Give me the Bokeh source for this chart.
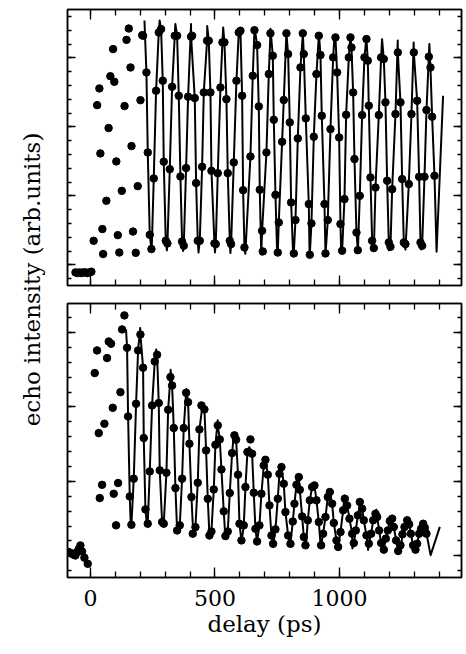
import math
from bokeh.plotting import figure
from bokeh.models import Range1d, FixedTicker, LinearAxis, Label
from bokeh.layouts import row, column
from bokeh.embed import file_html
from bokeh.resources import INLINE

# ---------------- data (delay in ps, echo intensity in arb. units) ----------------
x_ticks = [0, 500, 1000]
x_tick_labels = ["0", "500", "1000"]
x_minor_ticks = [-100, 0, 100, 200, 300, 400, 500, 600, 700, 800, 900, 1000, 1100, 1200, 1300, 1400]
y_ticks = [0, 5, 10, 15]
y_minor_ticks = list(range(-1, 19))

# upper panel: measured points
top_delay = [-60, -52, -44, -36, -28, -20, -12, -4, 4,
             13, 27, 36, 40, 48, 51, 64, 73, 80, 91, 96, 104, 110, 116, 126, 137, 145, 154, 161, 165,
             171, 182, 190, 201, 208,
             211.5, 224.9, 230.3, 238.3, 245, 254.3, 263.7, 274.4, 283.8, 290.5, 294.5, 302.5, 309.2,
             318.6, 328, 338.7, 348.1, 354.8, 361.4, 368.1, 374.8, 384.2, 392.2, 404.3, 408.3, 419,
             424.4, 431.1, 439.1, 448.5, 455.2, 468.5, 475.2, 481.9, 486, 498, 503.3, 511.4, 522.1,
             530.1, 538.1, 546.2, 551.5, 559.6, 564.9, 575.6, 586.3, 595.7, 602.4, 609.1, 613.1, 618.5,
             642.6, 651.9, 658.6, 669.3, 676, 680, 689.4, 692, 706.8, 716.2, 722.9, 732.3, 736.3, 743,
             752.3, 756.3, 769.7, 776.4, 787.1, 793.8, 800.5, 805.9, 816.6, 823.3, 832.7, 843.4, 852.7,
             856.7, 864.8, 876.8, 880.9, 887.5, 896.9, 907.6, 917, 923.7, 929, 939.8, 943.8, 953.1,
             963.9, 974.6, 983.9, 990.6, 998.7, 1004, 1010.7,
             1020.1, 1026.8, 1037.5, 1044.2, 1048.2, 1054.9, 1060.2, 1068.3, 1073.6, 1081.6, 1091,
             1100.4, 1108.4, 1113.8, 1117.8, 1124.5, 1131.2, 1137.9, 1144.6, 1158, 1167.3, 1178,
             1184.7, 1191.4, 1198.1, 1204.8, 1211.5, 1224.9, 1234.3, 1245, 1251.7, 1258.4, 1265,
             1278.4, 1289.1, 1298.5, 1311.9, 1319.9, 1325.3, 1332, 1341.4, 1349.4, 1358.8, 1365.4,
             1372.1, 1381.5]
top_signal = [-0.55, -0.6, -0.55, -0.6, -0.55, -0.55, -0.6, -0.55, -0.5,
              1.74, 11.57, 12.78, 8.07, 2.59, 0.78, 4.64, 9.91, 13.67, 15.63, 13.26, 7.49, 2.15, 0.89,
              5.36, 11.5, 16.3, 17.12, 14.3, 8.6, 2.41, 0.87, 5.7, 11.93, 16.64,
              16.6, 13.94, 8.14, 2.17, 1.14, 6.26, 12.61, 16.84, 17.08, 13.34, 7.47, 1.74, 1.55,
              6.93, 12.9, 16.6, 16.6, 12.25, 6.4, 1.69, 1.38, 7.01, 12.18, 16.53, 16.6, 12.08,
              5.92, 1.74, 1.74, 7.1, 12.49, 16.24, 16.24, 12.49, 6.81, 1.55, 1.5, 6.64, 12.85,
              16.12, 16.12, 12.0, 6.64, 1.74, 1.5, 7.42, 13.34, 16.84, 16.96, 12.25, 5.41, 1.26,
              7.85, 13.7, 17.0, 15.92, 11.48, 5.44, 2.46, 0.97, 8.14, 13.82, 16.77, 15.15, 10.51, 5.07,
              0.89, 3.07, 8.91, 11.94, 16.77, 15.27, 10.32, 4.52, 0.82, 3.24, 9.16, 14.3, 16.77,
              15.27, 10.61, 4.4, 0.73, 3.0, 9.28, 13.82, 16.6, 15.2, 10.8, 4.4, 0.82, 3.24,
              9.83, 15.03, 16.48, 13.94, 9.23, 2.95, 1.02,
              4.76, 10.87, 15.03, 16.48, 15.75, 12.49, 7.66, 2.34, 1.06, 5.0, 10.85,
              15.03, 16.36, 14.79, 11.53, 6.33, 1.74, 1.21, 5.6, 10.85, 15.03, 14.91,
              11.77, 6.09, 1.62, 1.31, 5.48, 10.92, 15.39, 11.77, 6.21, 1.62, 1.5,
              5.85, 10.92, 15.39, 11.89, 6.38, 1.62, 1.38, 6.38, 11.21, 15.08, 14.3,
              10.73, 6.45]

# upper panel: fitted curve (turning points)
top_fit_delay = [217, 246, 278, 307, 341, 372, 404, 434, 469, 500, 533, 562, 596, 622, 660, 686,
                 723, 750, 787, 814, 853, 880, 918, 944, 980, 1007, 1044, 1074, 1108, 1138, 1171,
                 1199, 1234, 1265, 1298, 1328, 1361, 1390, 1416]
top_fit_signal = [17.7, 1.0, 17.7, 1.05, 17.45, 1.0, 17.45, 0.9, 17.3, 0.9, 17.2, 0.85, 17.15, 0.8,
                  17.1, 0.75, 17.1, 0.7, 16.85, 0.7, 16.75, 0.7, 16.65, 0.75, 16.6, 0.85, 16.6, 0.95,
                  16.45, 1.0, 16.35, 1.05, 16.25, 1.1, 16.1, 1.1, 16.0, 0.95, 12.25]

# lower panel: measured points
bottom_delay = [-87, -80, -73.6, -67, -60.3, -53.6, -47, -40.2, -33.5, -24.1, -10.7,
                17.4, 26.7, 33.5, 37.5, 46.8, 56.2, 66.9, 73.6, 83, 89.7, 93.7, 103, 111.1, 120.5,
                127.2, 136.5,
                147.2, 151.3, 158, 164.6, 174, 183.4, 191.4, 200.8, 211.5, 214.2, 220.9, 230.2, 238.3,
                247.6, 258.3, 267.7, 274.4, 278.4, 287.8, 294.5, 305.2, 312.1, 321.3, 328, 334.7,
                341.4, 348.1, 358.8, 368.1, 374.8, 384.2, 392.2, 397.6, 405.6, 411, 421.7, 431,
                437.7, 445.8, 457.8, 464.5, 471.2, 477.9, 485.9, 495.3, 502, 511.4, 519.4, 526.1,
                535.4, 542.1, 551.5, 559.5, 568.9, 578.3, 585, 592.7, 598.4, 606.4, 615.8, 622.5,
                630.5, 635.9, 642.5, 649.2, 655.9, 662.6, 669.3, 678.7, 686.7, 696.1, 702.8, 712.2,
                718.9, 726.9, 733.6, 743, 752.4, 759, 767.1, 776.4, 783.1, 793.8, 803.2, 812.6,
                819.2, 827.3, 836.6,
                840.7, 850.1, 856.8, 863.5, 872.9, 880.9, 890.3, 899.6, 907.7, 917, 926.4, 934.4,
                943.8, 953.2, 961.2, 970.6, 977.3, 988, 994.7, 1004.1, 1014.8, 1021.5, 1030.8,
                1040.2, 1050.9, 1057.6, 1065.6, 1073.7, 1081.7, 1091.1, 1097.8, 1108.5, 1117.8,
                1127.2, 1135.3, 1144.6, 1151.3, 1159.3, 1167.4, 1178.1, 1186.1, 1194.1, 1202.2,
                1211.5, 1218.2, 1227.6, 1235.6, 1245, 1253, 1261.1, 1271.8, 1279.8, 1286.5,
                1295.9, 1305.3, 1312, 1320, 1328, 1336.1, 1342.7, 1349.4]
bottom_signal = [0.26, 0.2, 0.14, 0.08, 0.03, 0.26, 0.45, 0.7, 0.3, -0.12, -0.53,
                 12.27, 13.79, 8.24, 3.88, 4.77, 8.87, 13.28, 14.39, 14.24, 9.94, 4.17, 2.05, 4.89,
                 10.99, 15.2, 16.14,
                 13.97, 9.36, 3.99, 2.09, 5.18, 10.21, 13.79, 14.86, 12.63, 7.91, 3.12, 2.16, 5.67,
                 10.1, 13.05, 13.5, 10.26, 5.74, 2.27, 2.16, 5.58, 9.81, 12.0, 11.44, 8.58,
                 4.55, 1.71, 2.05, 5.18, 8.58, 10.95, 10.32, 7.53, 3.95, 1.49, 1.93, 4.91,
                 8.49, 10.1, 9.83, 7.08, 3.83, 1.37, 1.64, 4.46, 7.46, 8.76, 7.82, 5.8,
                 2.99, 1.33, 1.64, 4.22, 6.9, 8.09, 7.8, 5.45, 2.16, 1.04, 2.05, 4.62,
                 6.97, 6.97, 7.82, 6.86, 4.24, 1.82, 0.97, 2.05, 4.17, 6.07, 6.45, 5.45,
                 3.39, 1.37, 0.81, 1.78, 3.84, 5.51, 5.96, 4.84, 2.94, 1.37, 0.81, 2.31,
                 3.5, 4.77, 5.29,
                 4.44, 2.65, 1.27, 0.71, 2.39, 3.73, 4.62, 4.73, 3.73, 2.27, 0.71, 1.49,
                 2.61, 3.95, 4.29, 3.5, 2.21, 1.04, 0.6, 1.6, 3.06, 3.84, 3.39,
                 2.5, 1.49, 0.86, 1.71, 2.72, 3.62, 3.17, 2.39, 1.38, 0.82,
                 1.49, 2.39, 2.83, 2.61, 1.71, 0.86, 0.42, 1.16, 1.71, 2.34,
                 2.5, 1.94, 1.04, 0.33, 0.71, 1.45, 1.94, 2.39, 2.12, 1.49,
                 0.71, 0.42, 0.82, 1.49, 1.83, 2.16, 1.89, 1.49]

# lower panel: fitted curve (turning points)
bottom_fit_delay = [143, 162, 200, 227, 264, 289, 322, 351, 386, 413, 450, 478, 511, 542, 576, 607,
                    638, 669, 700, 734, 766, 802, 829, 865, 891, 925, 957, 990, 1020, 1052, 1084,
                    1115, 1148, 1178, 1211, 1245, 1272, 1305, 1336, 1366, 1403]
bottom_fit_signal = [15.2, 2.0, 15.3, 2.05, 13.85, 2.0, 12.5, 1.7, 11.2, 1.5, 10.1, 1.3, 9.1, 1.2,
                     8.2, 0.95, 7.3, 0.95, 6.6, 0.7, 6.0, 0.7, 5.4, 0.55, 4.8, 0.55, 4.35, 0.55,
                     4.05, 0.5, 3.6, 0.4, 3.1, 0.35, 2.7, 0.3, 2.5, 0.35, 2.2, 0.05, 1.95]

FONT = "DejaVu Serif"


def fit_path(ext_x, ext_y, dot_x, dot_y):
    """Curve through the read turning points, passing also through the measured
    points that lie monotonically between consecutive turning points."""
    pts = sorted(zip(dot_x, dot_y))
    xs, ys = [ext_x[0]], [ext_y[0]]
    for i in range(len(ext_x) - 1):
        x0, y0, x1, y1 = ext_x[i], ext_y[i], ext_x[i + 1], ext_y[i + 1]
        last = y0
        for dx, dy in pts:
            if x0 < dx < x1:
                if (y1 > y0 and last < dy < y1) or (y1 < y0 and y1 < dy < last):
                    xs.append(dx)
                    ys.append(dy)
                    last = dy
        xs.append(x1)
        ys.append(y1)
    return xs, ys


def styled_axis(ax, major_in, minor_in, labels):
    ax.major_tick_in = major_in
    ax.major_tick_out = 0
    ax.minor_tick_in = minor_in
    ax.minor_tick_out = 0
    ax.axis_line_color = "black"
    ax.axis_line_width = 1.5
    ax.major_tick_line_color = "black"
    ax.minor_tick_line_color = "black"
    ax.major_tick_line_width = 1.3
    ax.minor_tick_line_width = 1.3
    if not labels:
        ax.major_label_text_font_size = "0px"
        ax.major_label_standoff = 0
    return ax


def panel(frame_h, ylo, yhi, b_top, b_bottom, xs, ys, fx, fy, with_x_labels):
    p = figure(frame_width=394, frame_height=frame_h,
               x_range=Range1d(-92, 1490), y_range=Range1d(ylo, yhi),
               x_axis_type=None, y_axis_type=None,
               output_backend="svg", toolbar_location=None,
               min_border_left=17, min_border_right=5,
               min_border_top=b_top, min_border_bottom=b_bottom)
    p.outline_line_color = "black"
    p.outline_line_width = 1.5
    p.background_fill_color = "white"
    p.border_fill_color = "white"

    for loc in ("below", "above"):
        lab = with_x_labels and loc == "below"
        ax = LinearAxis(ticker=FixedTicker(ticks=x_ticks, minor_ticks=x_minor_ticks))
        styled_axis(ax, 10, 6, lab)
        if lab:
            ax.major_label_overrides = {t: s for t, s in zip(x_ticks, x_tick_labels)}
            ax.major_label_text_font = FONT
            ax.major_label_text_font_size = "22px"
            ax.major_label_text_color = "black"
            ax.major_label_standoff = 12
            ax.axis_label = "delay (ps)"
            ax.axis_label_text_font = FONT
            ax.axis_label_text_font_size = "23px"
            ax.axis_label_text_font_style = "normal"
            ax.axis_label_text_color = "black"
            ax.axis_label_standoff = 2
        else:
            ax.major_label_overrides = {t: "" for t in x_ticks}
        p.add_layout(ax, loc)
    for loc in ("left", "right"):
        ax = LinearAxis(ticker=FixedTicker(ticks=y_ticks, minor_ticks=y_minor_ticks))
        styled_axis(ax, 8, 4, False)
        ax.major_label_overrides = {t: "" for t in y_ticks}
        p.add_layout(ax, loc)

    lx, ly = fit_path(fx, fy, xs, ys)
    p.line(lx, ly, line_color="black", line_width=2, line_join="round")
    p.scatter(xs, ys, size=7.5, fill_color="black", line_color="black")
    return p


top = panel(276, -1.5, 18.5, 9, 9, top_delay, top_signal, top_fit_delay, top_fit_signal, False)
bottom = panel(274, -1.45, 16.94, 9, 77, bottom_delay, bottom_signal,
               bottom_fit_delay, bottom_fit_signal, True)

# side figure that carries the shared y-axis title
side = figure(frame_width=50, frame_height=654, x_range=Range1d(0, 50), y_range=Range1d(0, 654),
              x_axis_type=None, y_axis_type=None, output_backend="svg", toolbar_location=None,
              min_border=0, outline_line_color=None)
side.grid.visible = False
side.add_layout(Label(x=31, y=375, text="echo intensity (arb.units)", angle=math.pi / 2,
                      text_align="center", text_baseline="middle", text_font=FONT,
                      text_font_size="23px", text_color="black"))

layout = row(side, column(top, bottom))

open("out.html", "w").write(file_html(layout, INLINE))
